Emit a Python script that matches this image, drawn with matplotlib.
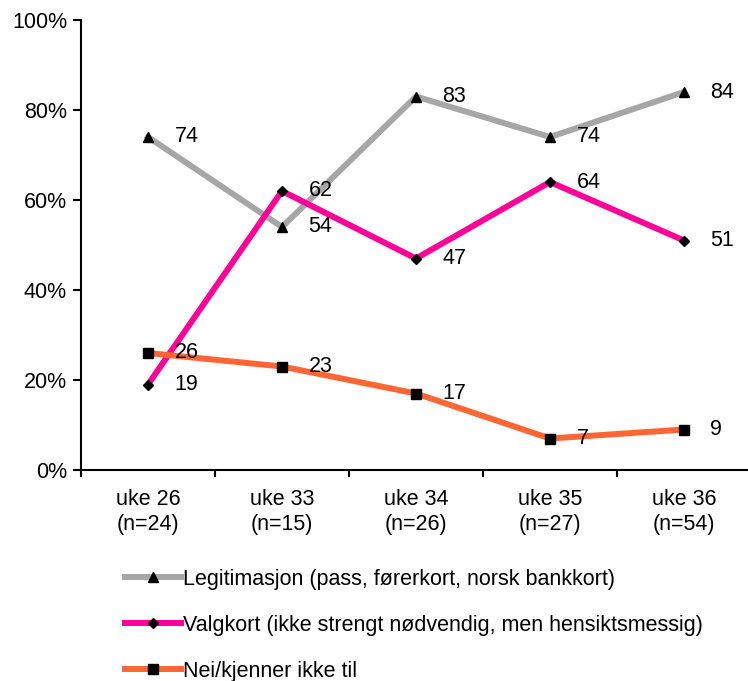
import matplotlib
matplotlib.use("Agg")
import matplotlib.pyplot as plt
from matplotlib.ticker import FixedLocator, PercentFormatter

plt.rcParams['font.family'] = ['Liberation Sans', 'DejaVu Sans']

uker = ["uke 26\n(n=24)", "uke 33\n(n=15)", "uke 34\n(n=26)", "uke 35\n(n=27)", "uke 36\n(n=54)"]
legitimasjon = [74, 54, 83, 74, 84]
valgkort = [19, 62, 47, 64, 51]
nei = [26, 23, 17, 7, 9]

serier = [
    ("Legitimasjon (pass, førerkort, norsk bankkort)", legitimasjon, "#A6A6A6", "^"),
    ("Valgkort (ikke strengt nødvendig, men hensiktsmessig)", valgkort, "#FF0099", "D"),
    ("Nei/kjenner ikke til", nei, "#FF6633", "s"),
]

fs = 15.5
fig = plt.figure(figsize=(7.48, 6.81), dpi=100)
ax = fig.add_axes([81 / 748, 211 / 681, 670 / 748, 450 / 681])

x = list(range(len(uker)))
for navn, verdier, farge, mk in serier:
    ms = 7 if mk != "D" else 5.5
    ax.plot(x, verdier, color=farge, lw=4.3, marker=mk, markersize=ms,
            markerfacecolor="black", markeredgecolor="black", label=navn, zorder=3)
    for xi, v in zip(x, verdier):
        ax.annotate(str(v), (xi, v), xytext=(19, 0), textcoords="offset points",
                    ha="left", va="center", fontsize=fs, zorder=4)

ax.set_xlim(-0.5, len(uker) - 0.5)
ax.set_ylim(0, 100)
ax.set_yticks([0, 20, 40, 60, 80, 100])
ax.yaxis.set_major_formatter(PercentFormatter(decimals=0))
ax.set_xticks(x)
ax.set_xticklabels(uker, fontsize=fs)
ax.tick_params(axis="x", length=0, pad=14)
ax.xaxis.set_minor_locator(FixedLocator([i - 0.5 for i in range(len(uker) + 1)]))
ax.tick_params(axis="x", which="minor", length=5, width=1.5, direction="out")
ax.tick_params(axis="y", length=6, width=1.5, direction="out", labelsize=fs, pad=4)
for s in ["top", "right"]:
    ax.spines[s].set_visible(False)
for s in ["left", "bottom"]:
    ax.spines[s].set_linewidth(1.5)

fig.legend(loc="upper left", bbox_to_anchor=(125 / 748, 1 - 569 / 681), frameon=False,
           fontsize=fs, handlelength=2.6, handletextpad=0.1, labelspacing=1.15,
           borderpad=0, borderaxespad=0)

fig.savefig("out.png", dpi=100)
